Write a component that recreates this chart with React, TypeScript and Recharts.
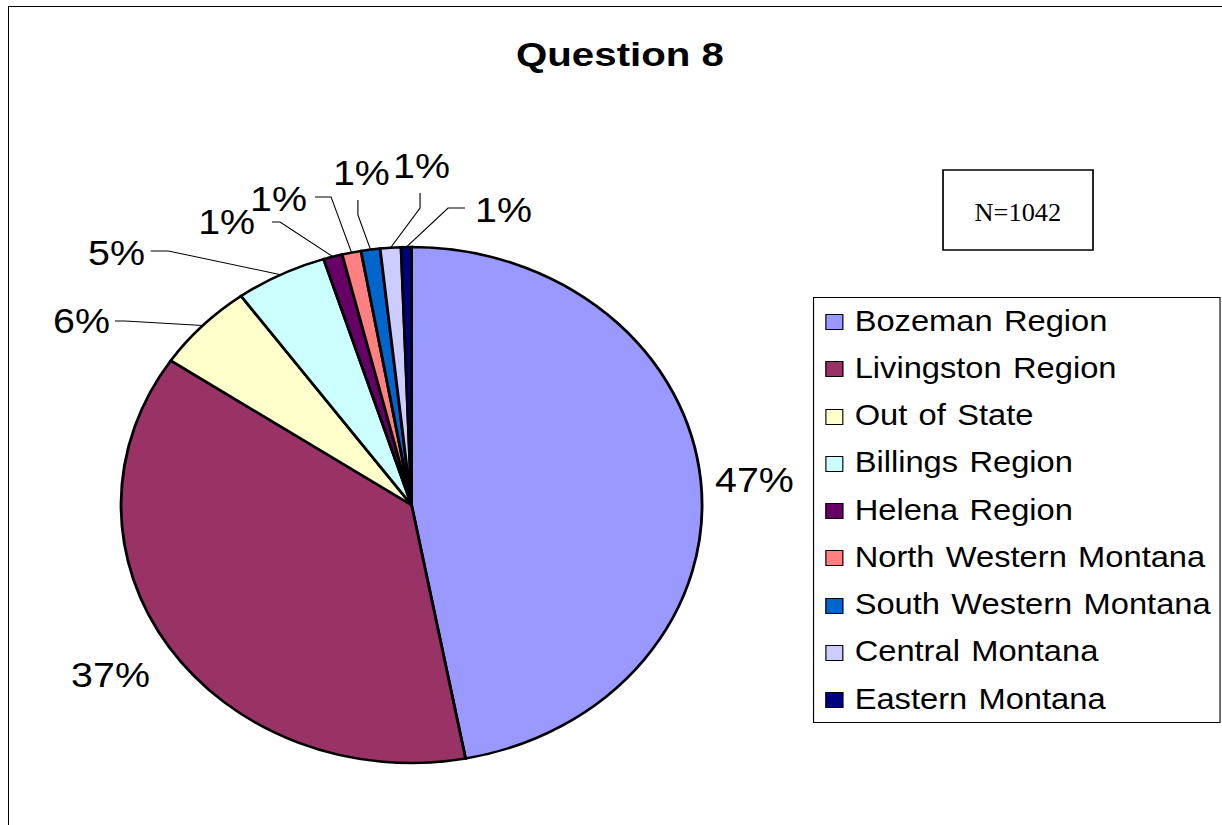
import React from 'react';
import { PieChart, Pie, Cell, Legend } from 'recharts';

// ---- data ----
const CATEGORIES = [
  'Bozeman Region',
  'Livingston Region',
  'Out of State',
  'Billings Region',
  'Helena Region',
  'North Western Montana',
  'South Western Montana',
  'Central Montana',
  'Eastern Montana',
];
const COUNTS = [490, 390, 58, 53, 11, 11, 11, 12, 6];
const COLORS = ['#9999FF', '#993366', '#FFFFCC', '#CCFFFF', '#660066', '#FF8080', '#0066CC', '#CCCCFF', '#000080'];
const TITLE = 'Question 8';
const N_LABEL = 'N=1042';

const DATA = CATEGORIES.map((name, i) => ({ name, value: COUNTS[i] }));

// ---- layout ----
const X_STRETCH = 1.126;
const W = 1085;
const H = 825;
const SANS = '"Liberation Sans", Arial, Helvetica, sans-serif';
const SERIF = '"Liberation Serif", "Times New Roman", serif';

type LabelLayout = { tx: number; ty: number; anchor: 'start' | 'middle' | 'end'; line?: [number, number][] };
// offsets relative to the slice's outer edge point at its mid angle
const LABEL_LAYOUT: LabelLayout[] = [
  { tx: 12.6, ty: -1, anchor: 'start' },
  { tx: -16.8, ty: 28, anchor: 'end' },
  { tx: -82.3, ty: -5, anchor: 'end', line: [[-69, -4.6], [-78, -4.6]] },
  { tx: -120.5, ty: -22.2, anchor: 'end', line: [[-99.8, -23.7], [-115.5, -23.7]] },
  { tx: -69, ty: -34.9, anchor: 'end', line: [[-46.9, -34.6], [-54, -34.6]] },
  { tx: -39.6, ty: -53.6, anchor: 'end', line: [[-18.2, -55.6], [-32.5, -55.6]] },
  { tx: -8.1, ty: -76.9, anchor: 'middle', line: [[-11.2, -34.6], [-11.2, -49.6]] },
  { tx: 27.5, ty: -81.7, anchor: 'middle', line: [[26.2, -39.7], [26.2, -54.7]] },
  { tx: 61, ty: -37, anchor: 'start', line: [[37.1, -39], [52.2, -39]] },
];

const RAD = Math.PI / 180;

const renderLabel = (props: any) => {
  const { cx, cy, midAngle, outerRadius, percent, index } = props;
  const ex = cx + outerRadius * Math.cos(-midAngle * RAD);
  const ey = cy + outerRadius * Math.sin(-midAngle * RAD);
  const lay = LABEL_LAYOUT[index] || { tx: 10, ty: 0, anchor: 'start' };
  const pts = lay.line ? [[ex, ey], ...lay.line.map(([dx, dy]) => [ex + dx, ey + dy])] : null;
  return (
    <g key={`lbl-${index}`}>
      {pts && (
        <polyline
          points={pts.map((p) => p.join(',')).join(' ')}
          fill="none"
          stroke="#000"
          strokeWidth={1}
        />
      )}
      <text
        x={ex + lay.tx}
        y={ey + lay.ty}
        textAnchor={lay.anchor}
        dominantBaseline="central"
        fontSize={35}
        fontFamily={SANS}
        fill="#000"
      >
        {`${Math.round(percent * 100)}%`}
      </text>
    </g>
  );
};

const renderLegend = (props: any) => {
  const payload: any[] = props.payload || [];
  const items = CATEGORIES.map((name, i) => {
    const p = payload.find((e) => e.value === name);
    return { name, color: (p && p.color) || COLORS[i] };
  });
  return (
    <div
      style={{
        position: 'relative',
        width: 361.5,
        height: 426,
        border: '1.5px solid #000',
        boxSizing: 'border-box',
        background: '#fff',
      }}
    >
      {items.map((it, i) => (
        <div
          key={it.name}
          style={{ position: 'absolute', left: 0, top: 24.2 + i * 47.25 - 16, height: 32, width: 358 }}
        >
          <div
            style={{
              position: 'absolute',
              left: 10,
              top: 8,
              width: 16,
              height: 16,
              background: it.color,
              border: '1.5px solid #000',
              boxSizing: 'border-box',
            }}
          />
          <div
            style={{
              position: 'absolute',
              left: 36,
              top: -1.5,
              height: 32,
              lineHeight: '32px',
              fontSize: 29,
              wordSpacing: 2,
              fontFamily: SANS,
              color: '#000',
              whiteSpace: 'nowrap',
            }}
          >
            {it.name}
          </div>
        </div>
      ))}
    </div>
  );
};

export default function App() {
  return (
    <div
      style={{
        position: 'fixed',
        left: 0,
        top: 0,
        width: 1222,
        height: 825,
        overflow: 'hidden',
        background: '#fff',
      }}
    >
      <div
        style={{
          position: 'absolute',
          left: 7.5,
          top: 6,
          width: 1400,
          height: 1000,
          borderLeft: '1.5px solid #000',
          borderTop: '1.5px solid #000',
        }}
      />
      <div
        style={{
          position: 'absolute',
          left: 0,
          top: 0,
          width: W,
          height: H,
          transform: `scaleX(${X_STRETCH})`,
          transformOrigin: '0 0',
        }}
      >
        <PieChart width={W} height={H} margin={{ top: 0, right: 0, bottom: 0, left: 0 }}>
          <Pie
            data={DATA}
            dataKey="value"
            nameKey="name"
            cx={365.5}
            cy={505}
            outerRadius={258}
            startAngle={90}
            endAngle={-270}
            stroke="#000"
            strokeWidth={2.5}
            isAnimationActive={false}
            label={renderLabel}
            labelLine={false}
          >
            {DATA.map((d, i) => (
              <Cell key={d.name} fill={COLORS[i]} />
            ))}
          </Pie>
          <Legend
            layout="vertical"
            align="right"
            verticalAlign="top"
            content={renderLegend}
            wrapperStyle={{ left: 722, top: 297, width: 361.5, height: 426 }}
          />
        </PieChart>
        <svg
          width={W}
          height={H}
          style={{ position: 'absolute', left: 0, top: 0, pointerEvents: 'none' }}
        >
          <text
            x={550.6}
            y={66}
            textAnchor="middle"
            fontSize={32.5}
            fontWeight="bold"
            fontFamily={SANS}
            textLength={184.7}
            lengthAdjust="spacingAndGlyphs"
            fill="#000"
          >
            {TITLE}
          </text>
          <rect x={837.5} y={170} width={133.2} height={80} fill="#fff" stroke="#000" strokeWidth={1.5} />
          <text
            x={904}
            y={221}
            textAnchor="middle"
            fontSize={25}
            fontFamily={SERIF}
            textLength={77}
            lengthAdjust="spacingAndGlyphs"
            fill="#000"
          >
            {N_LABEL}
          </text>
        </svg>
      </div>
    </div>
  );
}
